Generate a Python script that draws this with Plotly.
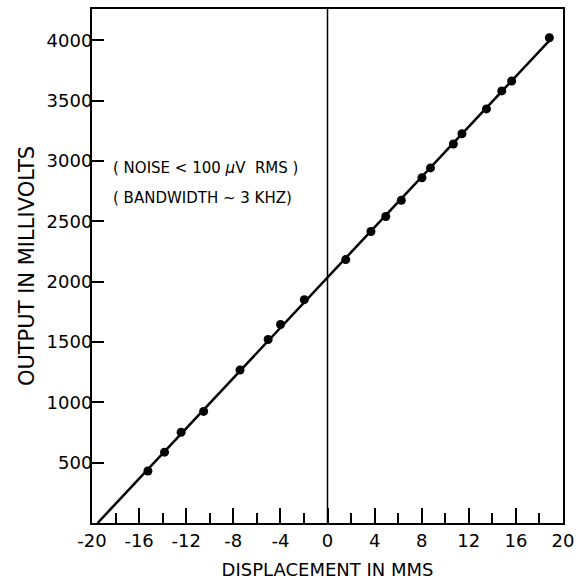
import numpy as np
import plotly.graph_objects as go

# Data
displacement_mm = [-15.25, -13.84, -12.43, -10.52, -7.43, -5.04, -3.99, -1.97,
                   1.55, 3.69, 4.95, 6.27, 8.02, 8.75, 10.69, 11.42,
                   13.5, 14.8, 15.64, 18.84]
output_mv = [431, 587, 752, 925, 1268, 1521, 1645, 1851,
             2183, 2416, 2540, 2675, 2861, 2943, 3141, 3226,
             3432, 3581, 3663, 4022]

x_tick_vals = [-20, -16, -12, -8, -4, 0, 4, 8, 12, 16, 20]
x_tick_text = ["-20", "-16", "-12", "-8", "-4", "0", "4", "8", "12", "16", "20"]
y_tick_vals = [500, 1000, 1500, 2000, 2500, 3000, 3500, 4000]
y_tick_text = ["500", "1000", "1500", "2000", "2500", "3000", "3500", "4000"]

# Fitted straight line through the measurements
slope, intercept = np.polyfit(displacement_mm, output_mv, 1)
x_start = -intercept / slope
line_x = np.array([x_start, max(displacement_mm)])
line_y = slope * line_x + intercept

FONT = "DejaVu Sans, sans-serif"

fig = go.Figure()
fig.add_trace(go.Scatter(x=line_x, y=line_y, mode="lines",
                         line=dict(color="black", width=2.5), showlegend=False))
fig.add_trace(go.Scatter(x=displacement_mm, y=output_mv, mode="markers",
                         marker=dict(color="black", size=9), showlegend=False))

# vertical line at zero displacement
fig.add_shape(type="line", xref="x", yref="paper", x0=0, x1=0, y0=0, y1=1,
              line=dict(color="black", width=1.5))

fig.add_annotation(x=0.04, y=0.69, xref="paper", yref="paper",
                   xanchor="left", yanchor="middle",
                   text="( NOISE < 100 <i>μ</i>V  RMS )", showarrow=False,
                   font=dict(family=FONT, size=15, color="black"))
fig.add_annotation(x=0.04, y=0.632, xref="paper", yref="paper",
                   xanchor="left", yanchor="middle",
                   text="( BANDWIDTH ~ 3 KHZ)", showarrow=False,
                   font=dict(family=FONT, size=15, color="black"))

fig.update_layout(
    width=581, height=584,
    margin=dict(l=92, r=15, t=7, b=60),
    paper_bgcolor="white", plot_bgcolor="white",
    font=dict(family=FONT, size=18, color="black"),
    xaxis=dict(range=[-20, 20], tickvals=x_tick_vals, ticktext=x_tick_text,
               ticks="inside", ticklen=15, tickwidth=2, tickcolor="black",
               minor=dict(dtick=2, tick0=0, ticks="inside", ticklen=10,
                          tickwidth=1.5, tickcolor="black"),
               showline=True, linewidth=2, linecolor="black", mirror=True,
               showgrid=False, zeroline=False,
               tickfont=dict(family=FONT, size=18),
               title=dict(text="DISPLACEMENT IN MMS", standoff=14,
                          font=dict(family=FONT, size=18))),
    yaxis=dict(range=[0, 4260], tickvals=y_tick_vals, ticktext=y_tick_text,
               ticks="inside", ticklen=12, tickwidth=2, tickcolor="black",
               showline=True, linewidth=2, linecolor="black", mirror=True,
               showgrid=False, zeroline=False,
               tickfont=dict(family=FONT, size=18),
               ticklabelstandoff=-6,
               title=dict(text="OUTPUT IN MILLIVOLTS", standoff=6,
                          font=dict(family=FONT, size=21))),
)

fig.write_html("out.html",
               config={"displayModeBar": False},
               post_script="document.body.style.margin='0';"
                           "document.body.style.overflow='hidden';")
